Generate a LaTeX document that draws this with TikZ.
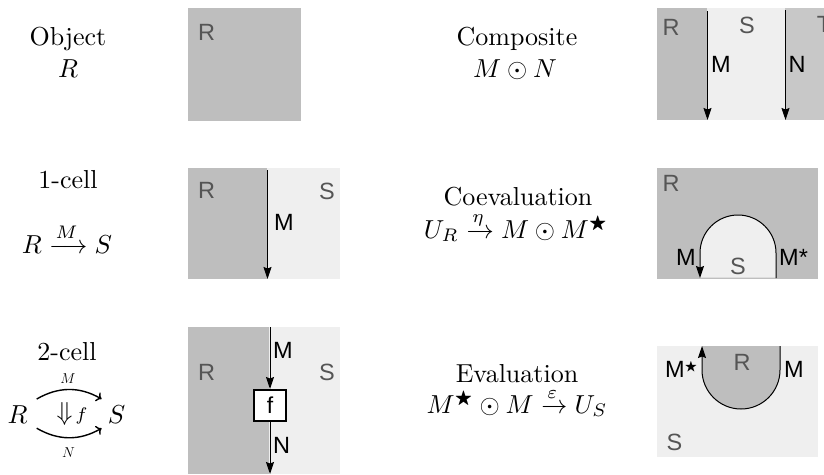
\documentclass[tikz,border=0pt]{standalone}
\usepackage{amsmath,amssymb}
\usepackage{graphicx}
\usepackage{fontspec}
\newfontfamily\sflab{Liberation Sans}
\usetikzlibrary{arrows.meta}
\definecolor{dk}{HTML}{BEBEBE}
\definecolor{lt}{HTML}{EFEFEF}
\definecolor{tt}{HTML}{C8C8C8}
\definecolor{lbl}{HTML}{555555}
\newcommand\bigt[1]{\scalebox{2.6}{#1}}
\begin{document}
\begin{tikzpicture}[x=1pt,y=-1pt,
  txt/.style={font=\fontsize{10}{12}\selectfont, anchor=base, inner sep=0pt},
  small/.style={font=\fontsize{15}{17}\selectfont, anchor=base, inner sep=0pt},
  lab/.style={font=\sflab\fontsize{23.5}{27}\selectfont, text=lbl, anchor=base, inner sep=0pt},
  blab/.style={lab, text=black},
  wire/.style={line width=1pt, -{Stealth[length=12pt,width=8pt,inset=1.5pt]}},
  cellarr/.style={line width=1.4pt, -{To[length=5pt,width=10pt]}},
  fbox/.style={draw, line width=2pt, fill=white, minimum width=32pt, minimum height=31pt, inner sep=0pt, font=\sflab\fontsize{23}{27}\selectfont}
]
\useasboundingbox (0,0) rectangle (824,474);

% ---------- left texts ----------
\node[txt] (t1) at (68,45) {\bigt{Object}};
\node[txt] (t1m) at (68,77) {\bigt{$R$}};
\node[txt] (t2) at (68,188) {\bigt{1-cell}};
\node[txt] (t2m) at (67,253) {\bigt{$R\xrightarrow{M}S$}};
\node[txt] (t3) at (67,360) {\bigt{2-cell}};
\node[txt] (R2) at (17.5,423) {\bigt{$R$}};
\node[txt] (S2) at (116.5,423) {\bigt{$S$}};
\draw[cellarr] ([shift={(9,-6)}]R2.north east) to[bend left=30] ([shift={(-6,-6)}]S2.north west);
\draw[cellarr] ([shift={(9,5)}]R2.south east) to[bend right=30] ([shift={(-6,5)}]S2.south west);
\node[small] (m2) at (68,383) {$M$};
\node[small] (n2) at (68.5,457) {$N$};
\node[txt, anchor=center] (df) at (72,414) {\bigt{$\Downarrow\!{\scriptstyle f}$}};

% ---------- right texts ----------
\node[txt] (t4) at (517,45) {\bigt{Composite}};
\node[txt] (t4m) at (515,77) {\bigt{$M\odot N$}};
\node[txt] (t5) at (518,205) {\bigt{Coevaluation}};
\node[txt] (t5m) at (516,238) {\bigt{$U_R\xrightarrow{\eta}M\odot M^\bigstar$}};
\node[txt] (t6) at (517,382) {\bigt{Evaluation}};
\node[txt] (t6m) at (517,413) {\bigt{$M^\bigstar\odot M\xrightarrow{\varepsilon}U_S$}};

% ---------- Object panel ----------
\fill[dk] (188,8) rectangle (301,121);
\node[lab] (oR) at (206.5,40) {R};

% ---------- 1-cell panel ----------
\fill[lt] (188,168) rectangle (340,279);
\fill[dk] (188,168) rectangle (267,279);
\coordinate (a1) at (267.5,170);
\coordinate (a2) at (267.5,279);
\draw[wire] (a1) -- (a2);
\node[lab] (aR) at (206.5,198) {R};
\node[blab] (aM) at (284,230) {M};
\node[lab] (aS) at (327,199) {S};

% ---------- 2-cell panel ----------
\fill[lt] (188,327) rectangle (340,474);
\fill[dk] (188,327) rectangle (269,474);
\node[fbox] (f) at (270,405.5) {f};
\coordinate (b1) at (270,327);
\coordinate (b2) at (270,474);
\draw[wire] (b1) -- (f.north);
\draw[wire] (f.south) -- (b2);
\node[lab] (bR) at (206.5,380) {R};
\node[blab] (bM) at (283,358) {M};
\node[blab] (bN) at (281.5,453) {N};
\node[lab] (bS) at (327,380) {S};

% ---------- Composite panel ----------
\fill[dk] (657,8) rectangle (707,120);
\fill[lt] (707,8) rectangle (785,120);
\fill[tt] (785,8) rectangle (830,120);
\coordinate (c1) at (707.5,11);
\coordinate (c2) at (707.5,120);
\coordinate (c3) at (785.5,10);
\coordinate (c4) at (785.5,120);
\draw[wire] (c1) -- (c2);
\draw[wire] (c3) -- (c4);
\node[lab] (cR) at (671,35) {R};
\node[lab] (cS) at (747,33) {S};
\node[lab] (cT) at (824,32) {T};
\node[blab] (cM) at (721,72) {M};
\node[blab] (cN) at (797,72) {N};

% ---------- Coevaluation panel ----------
\fill[dk] (657,168) rectangle (818,279);
\fill[lt] (776,277.5) -- (776,253) .. controls (776,232) and (759,215) .. (738,215)
   .. controls (717,215) and (700,232) .. (700,253) -- (700,277.5) -- cycle;
\coordinate (d1) at (776,278);
\coordinate (d2) at (700,278);
\draw[wire] (d1) -- (776,253) .. controls (776,232) and (759,215) .. (738,215)
   .. controls (717,215) and (700,232) .. (700,253) -- (d2);
\node[lab] (dR) at (671,191) {R};
\node[blab] (dM) at (686,265) {M};
\node[lab] (dS) at (738,274) {S};
\node[blab, anchor=base west] (dMs) at (779,265) {M*};

% ---------- Evaluation panel ----------
\fill[lt] (657,346) rectangle (818,457);
\fill[dk] (780,346) -- (780,370) .. controls (780,391.5) and (762.5,409) .. (741,409)
   .. controls (719.5,409) and (702,391.5) .. (702,370) -- (702,346) -- cycle;
\coordinate (e1) at (780,346);
\coordinate (e2) at (702,346);
\draw[wire] (e1) -- (780,370) .. controls (780,391.5) and (762.5,409) .. (741,409)
   .. controls (719.5,409) and (702,391.5) .. (702,370) -- (e2);
\node[blab, anchor=base west] (eMs) at (665,377) {M\raisebox{7pt}{\fontsize{13}{13}\selectfont$\bigstar$}};
\node[lab] (eR) at (742,370) {R};
\node[blab] (eM) at (794,377) {M};
\node[lab] (eS) at (674.5,450) {S};
\end{tikzpicture}
\end{document}
